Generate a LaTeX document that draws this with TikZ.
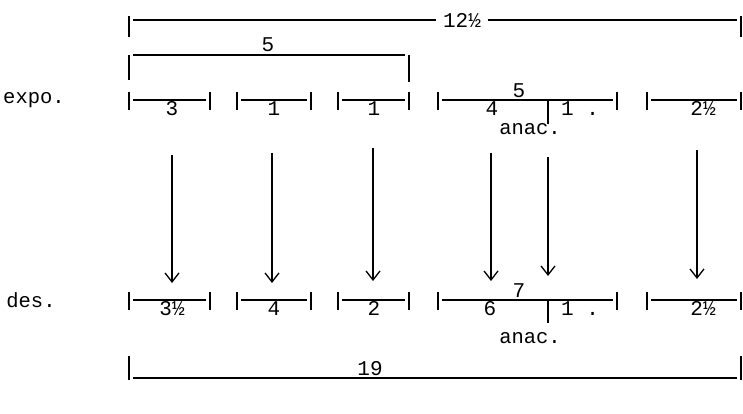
\documentclass[tikz,border=0pt]{standalone}
\usepackage{fontspec}
\setmonofont{Liberation Mono}
\usetikzlibrary{arrows.meta}
\begin{document}
\begin{tikzpicture}[x=1pt,y=-1pt,line width=1.3pt,
  lbl/.style={font=\ttfamily\fontsize{20.5}{20.5}\selectfont, inner sep=0pt},
  num/.style={font=\ttfamily\fontsize{21}{21}\selectfont, inner sep=0pt},
  arr/.style={-{Straight Barb[length=9pt,width=14pt,line width=1.3pt]}, line width=1.3pt}]
\useasboundingbox (0,0) rectangle (743,414);

% ---------- top brackets ----------
\node[num,inner xsep=6pt] (t125) at (462,20) {12½};
\coordinate (tL) at (129,16); \coordinate (tLb) at (129,37);
\coordinate (tR) at (741,16); \coordinate (tRb) at (741,37);
\draw (tL) -- (tLb);
\draw (tR) -- (tRb);
\draw (133,20) -- (t125.west);
\draw (t125.east) -- (737,20);

\node[num,anchor=south] (t5) at (268,52) {5};
\draw (129,55) -- (129,80);
\draw (133,55) -- (405,55);
\draw (409,55) -- (409,82);

% ---------- expo row ----------
\node[lbl] (expo) at (34,100) {expo.};
\foreach \a/\b in {129/210, 237/311, 338/409, 438/617, 647/741}{
  \draw (\a,92) -- (\a,110);
  \draw (\b,92) -- (\b,110);
  \draw (\a+4,100) -- (\b-4,100);
}
\node[num,anchor=north] (e1) at (172,101) {3};
\node[num,anchor=north] (e2) at (274,101) {1};
\node[num,anchor=north] (e3) at (374,101) {1};
\node[num,anchor=south] (e4t) at (519,98) {5};
\node[num,anchor=north] (e4) at (492,101) {4};
\draw (548,100) -- (548,124);
\node[num,anchor=north] (e4b) at (580,101) {1 .};
\node[lbl] (ea) at (530,129) {anac.};
\node[num,anchor=north] (e5) at (703,101) {2½};

% ---------- arrows ----------
\foreach \i/\x/\ys/\ye in {1/172/155/283, 2/272/153/283, 3/373/148/281, 4/491/153/281, 5/548/157/276, 6/697/150/279}{
  \coordinate (as\i) at (\x,\ys);
  \coordinate (ae\i) at (\x,\ye);
  \draw[arr] (as\i) -- (ae\i);
}

% ---------- des row ----------
\node[lbl] (des) at (31,300) {des.};
\foreach \a/\b in {129/210, 237/311, 338/409, 438/617, 647/741}{
  \draw (\a,292) -- (\a,310);
  \draw (\b,292) -- (\b,310);
  \draw (\a+4,300) -- (\b-4,300);
}
\node[num,anchor=north] (d1) at (172,301) {3½};
\node[num,anchor=north] (d2) at (274,301) {4};
\node[num,anchor=north] (d3) at (374,301) {2};
\node[num,anchor=south] (d4t) at (519,298) {7};
\node[num,anchor=north] (d4) at (490,301) {6};
\draw (548,300) -- (548,323);
\node[num,anchor=north] (d4b) at (580,301) {1 .};
\node[lbl] (da) at (530,338) {anac.};
\node[num,anchor=north] (d5) at (703,301) {2½};

% ---------- bottom bracket ----------
\node[num,anchor=south] (b19) at (370,376) {19};
\draw (129,356) -- (129,380);
\draw (741,356) -- (741,380);
\draw (133,378) -- (737,378);
\end{tikzpicture}
\end{document}
